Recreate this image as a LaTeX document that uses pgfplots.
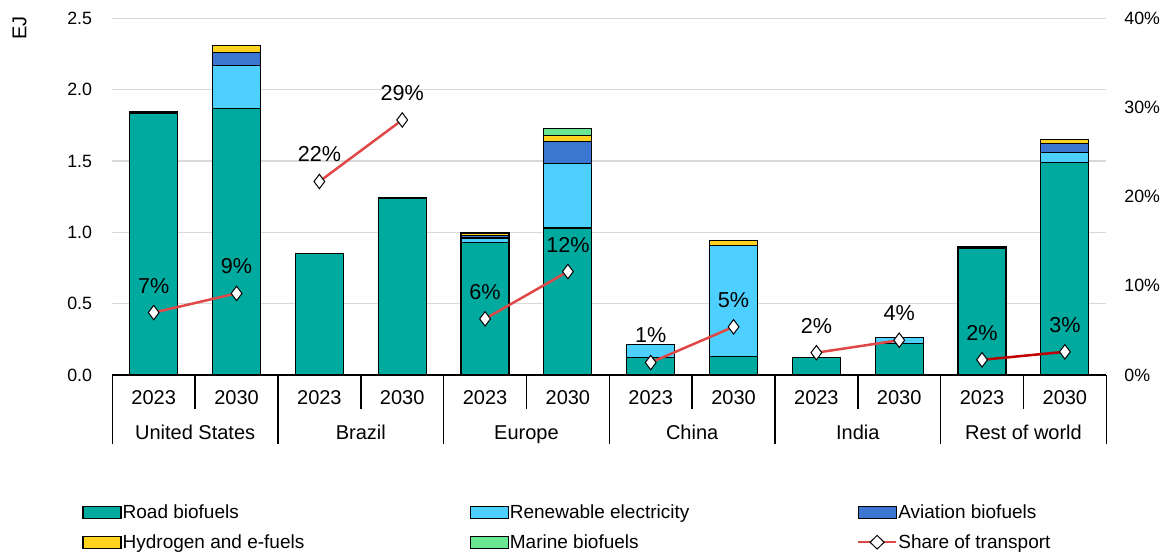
\documentclass[border=0pt]{standalone}
\usepackage{fontspec}
\setmainfont{Liberation Sans}
\usepackage{pgfplots}
\usepackage{pgfplotstable}
\pgfplotsset{compat=1.18}

\definecolor{road}{RGB}{0,170,159}
\definecolor{renew}{RGB}{77,208,255}
\definecolor{avia}{RGB}{59,118,209}
\definecolor{hydro}{RGB}{255,210,30}
\definecolor{marine}{RGB}{106,230,146}
\definecolor{shareline}{RGB}{224,72,72}
\definecolor{sharedark}{RGB}{192,0,0}
\definecolor{gridgray}{RGB}{217,217,217}

% EJ by region and year (x = 0..11)
\pgfplotstableread{
x  road  renew  avia   hydro  marine
0  1.830 0.008  0.007  0.000  0.000
1  1.870 0.300  0.090  0.050  0.000
2  0.850 0.000  0.000  0.000  0.000
3  1.240 0.000  0.000  0.000  0.000
4  0.930 0.030  0.020  0.010  0.010
5  1.030 0.450  0.155  0.045  0.050
6  0.120 0.095  0.000  0.000  0.000
7  0.130 0.780  0.000  0.030  0.000
8  0.120 0.000  0.000  0.000  0.000
9  0.220 0.045  0.000  0.000  0.000
10 0.890 0.000  0.010  0.000  0.000
11 1.490 0.070  0.060  0.030  0.000
}\energy

\pgfplotsset{
  boxlegend/.style={legend image code/.code={
    \draw[##1,draw=black,line width=0.6pt] (0pt,-2.6pt) rectangle (19pt,3.4pt);}},
  sharestyle/.style={line width=1.25pt, color=shareline,
    mark=diamond*, mark size=3.6pt,
    mark options={fill=white, draw=black, line width=0.5pt, solid},
    nodes near coords, point meta=explicit symbolic,
    every node near coord/.append style={anchor=center, yshift=13.5pt,
      text=black, font=\fontsize{10.8}{12}\selectfont}},
}

\begin{document}
\begin{tikzpicture}
\useasboundingbox (-56.15pt,-90.5pt) rectangle (531.35pt,187.5pt);

\begin{axis}[
  at={(0,0)}, anchor=south west,
  scale only axis, width=497pt, height=178.35pt,
  ybar stacked, bar width=24pt,
  xmin=-0.5, xmax=11.5, ymin=0, ymax=2.5,
  axis x line*=bottom, axis y line*=left,
  y axis line style={draw=none},
  x axis line style={line width=0.75pt, -},
  xtick={0,...,11},
  xticklabels={2023,2030,2023,2030,2023,2030,2023,2030,2023,2030,2023,2030},
  xticklabel style={anchor=center, yshift=-11.3pt, text height=7.3pt, text depth=0pt,
    font=\fontsize{10}{12}\selectfont},
  major tick length=0pt,
  minor xtick={-0.5,0.5,...,11.5}, minor tick length=17pt, tick align=outside,
  x tick style={black, line width=0.75pt},
  ytick={0,0.5,1,1.5,2,2.5}, y tick style={draw=none},
  yticklabel style={/pgf/number format/.cd, fixed, fixed zerofill, precision=1,
    /tikz/.cd, xshift=-6.6pt, font=\fontsize{8.9}{10}\selectfont},
  /pgf/number format/assume math mode=true,
  ymajorgrids, grid style={gridgray, line width=0.75pt},
  ylabel={EJ},
  ylabel style={at={(rel axis cs:-0.0932,0.972)}, anchor=center,
    font=\fontsize{10}{12}\selectfont},
  legend columns=3,
  legend cell align=left,
  legend style={at={(rel axis cs:-0.0304,-0.363)}, anchor=north west,
    draw=none, fill=none, inner sep=0pt,
    nodes={inner xsep=0.5pt, inner ysep=0pt},
    row sep=6.5pt,
    font=\fontsize{9.5}{11}\selectfont},
]
\addplot[boxlegend, fill=road, draw=black, line width=0.6pt] table[x=x, y=road] {\energy};
\addlegendentry{\makebox[173pt][l]{Road biofuels}}
\addplot[boxlegend, fill=renew, draw=black, line width=0.6pt] table[x=x, y=renew] {\energy};
\addlegendentry{\makebox[173pt][l]{Renewable electricity}}
\addplot[boxlegend, fill=avia, draw=black, line width=0.6pt] table[x=x, y=avia] {\energy};
\addlegendentry{\makebox[173pt][l]{Aviation biofuels}}
\addplot[boxlegend, fill=hydro, draw=black, line width=0.6pt] table[x=x, y=hydro] {\energy};
\addlegendentry{\makebox[173pt][l]{Hydrogen and e-fuels}}
\addplot[boxlegend, fill=marine, draw=black, line width=0.6pt] table[x=x, y=marine] {\energy};
\addlegendentry{\makebox[173pt][l]{Marine biofuels}}
\addlegendimage{legend image code/.code={
    \draw[shareline, line width=1.25pt] (0pt,0.4pt) -- (19pt,0.4pt);
    \draw[fill=white, draw=black, line width=0.5pt] (9.5pt,-3pt) -- (13pt,0.4pt) -- (9.5pt,3.8pt) -- (6pt,0.4pt) -- cycle;}}
\addlegendentry{\makebox[173pt][l]{Share of transport}}
\end{axis}

\begin{axis}[
  at={(0,0)}, anchor=south west,
  scale only axis, width=497pt, height=178.35pt,
  xmin=-0.5, xmax=11.5, ymin=0, ymax=40,
  axis x line*=bottom, axis y line*=right,
  y axis line style={draw=none},
  x axis line style={line width=0.75pt, -},
  xtick={0.5,2.5,...,10.5},
  xticklabels={United States,Brazil,Europe,China,India,Rest of world},
  xticklabel style={anchor=center, yshift=-28.7pt, text height=7.3pt, text depth=0pt,
    font=\fontsize{10}{12}\selectfont},
  major tick length=0pt,
  minor xtick={-0.5,1.5,...,11.5}, minor tick length=34.5pt, tick align=outside,
  x tick style={black, line width=0.75pt},
  ytick={0,10,20,30,40}, y tick style={draw=none},
  yticklabel={\pgfmathprintnumber{\tick}\%},
  yticklabel style={xshift=5.5pt, font=\fontsize{8.9}{10}\selectfont},
  /pgf/number format/assume math mode=true,
  clip=false,
]
\addplot[sharestyle] coordinates {(0,7.0) [7\%] (1,9.15) [9\%]};
\addplot[sharestyle] coordinates {(2,21.7) [22\%] (3,28.6) [29\%]};
\addplot[sharestyle] coordinates {(4,6.3) [6\%] (5,11.6) [12\%]};
\addplot[sharestyle] coordinates {(6,1.4) [1\%] (7,5.4) [5\%]};
\addplot[sharestyle] coordinates {(8,2.5) [2\%] (9,3.9) [4\%]};
\addplot[sharestyle, color=sharedark] coordinates {(10,1.7) [2\%] (11,2.6) [3\%]};
\end{axis}
\end{tikzpicture}
\end{document}
